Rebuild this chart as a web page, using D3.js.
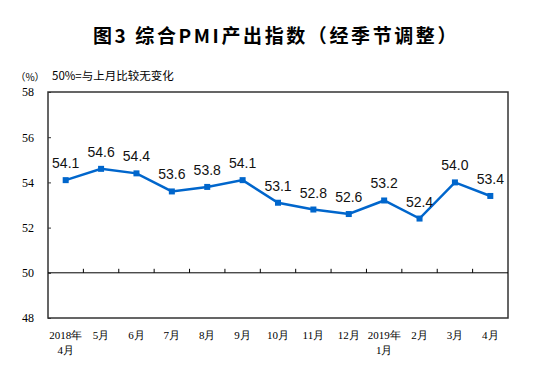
<!DOCTYPE html>
<html>
<head>
<meta charset="utf-8">
<script src="https://cdn.jsdelivr.net/npm/d3@7"></script>
<style>
  body { margin: 0; background: #fff; }
  svg { display: block; }
</style>
</head>
<body>
<svg width="553" height="389"></svg>
<script>
const months = ["2018年\n4月", "5月", "6月", "7月", "8月", "9月", "10月", "11月", "12月", "2019年\n1月", "2月", "3月", "4月"];
const pmiValues = [54.1, 54.6, 54.4, 53.6, 53.8, 54.1, 53.1, 52.8, 52.6, 53.2, 52.4, 54.0, 53.4];
const yTicks = [48, 50, 52, 54, 56, 58];

const svg = d3.select("svg");
const margin = { top: 92, right: 45, bottom: 71, left: 48 };
const width = 553 - margin.left - margin.right;
const height = 389 - margin.top - margin.bottom;
const blue = "#0066cc";
const serif = "'Liberation Serif', 'Times New Roman', serif";
const cjk = "'Noto Sans CJK SC', sans-serif";

// title
svg.append("text")
  .attr("x", 276).attr("y", 43)
  .attr("text-anchor", "middle")
  .style("font-family", cjk)
  .style("font-weight", "bold")
  .style("font-size", "19px")
  .style("letter-spacing", "2.6px")
  .text("图3 综合PMI产出指数（经季节调整）");

svg.append("text")
  .attr("x", 30).attr("y", 81)
  .attr("text-anchor", "middle")
  .style("font-family", cjk)
  .style("font-size", "10px")
  .text("（%）");

svg.append("text")
  .attr("x", 52).attr("y", 80)
  .style("font-family", cjk)
  .style("font-size", "11.5px")
  .text("50%=与上月比较无变化");

const g = svg.append("g").attr("transform", `translate(${margin.left},${margin.top})`);

const x = d3.scaleBand().domain(d3.range(months.length)).range([0, width]);
const y = d3.scaleLinear().domain([48, 58]).range([height, 0]);

// frame
g.append("rect")
  .attr("width", width).attr("height", height)
  .attr("fill", "none").attr("stroke", "#333").attr("stroke-width", 1.5);

// y axis
const yAxis = g.append("g")
  .call(d3.axisLeft(y).tickValues(yTicks).tickSize(-3).tickPadding(14));
yAxis.select(".domain").remove();
yAxis.selectAll("line").attr("stroke", "#333");
yAxis.selectAll("text")
  .style("font-family", serif)
  .style("font-size", "12px")
  .attr("fill", "#000");

// 50 baseline with category boundary ticks
g.append("line")
  .attr("x1", 0).attr("x2", width)
  .attr("y1", y(50)).attr("y2", y(50))
  .attr("stroke", "#000").attr("stroke-width", 1);

g.selectAll(".bound")
  .data(d3.range(1, months.length))
  .enter().append("line")
  .attr("x1", d => x(d)).attr("x2", d => x(d))
  .attr("y1", y(50)).attr("y2", y(50) - 4)
  .attr("stroke", "#000");

// x labels
const xl = g.selectAll(".xl")
  .data(months)
  .enter().append("text")
  .attr("x", (d, i) => x(i) + x.bandwidth() / 2)
  .attr("y", height + 21)
  .attr("text-anchor", "middle")
  .style("font-family", serif)
  .style("font-size", "11px");
xl.each(function(d) {
  const lines = d.split("\n");
  d3.select(this).selectAll("tspan")
    .data(lines)
    .enter().append("tspan")
    .attr("x", d3.select(this).attr("x"))
    .attr("dy", (l, j) => j === 0 ? 0 : 15)
    .text(l => l);
});

// line
const line = d3.line()
  .x((d, i) => x(i) + x.bandwidth() / 2)
  .y(d => y(d));

g.append("path")
  .datum(pmiValues)
  .attr("d", line)
  .attr("fill", "none")
  .attr("stroke", blue)
  .attr("stroke-width", 2.5);

g.selectAll(".mk")
  .data(pmiValues)
  .enter().append("rect")
  .attr("x", (d, i) => x(i) + x.bandwidth() / 2 - 3)
  .attr("y", d => y(d) - 3)
  .attr("width", 6).attr("height", 6)
  .attr("fill", blue);

g.selectAll(".lbl")
  .data(pmiValues)
  .enter().append("text")
  .attr("x", (d, i) => x(i) + x.bandwidth() / 2)
  .attr("y", d => y(d) - 12)
  .attr("text-anchor", "middle")
  .style("font-family", "'Liberation Sans', Arial, sans-serif")
  .style("font-size", "14px")
  .attr("fill", "#111")
  .text(d => d.toFixed(1));
</script>
</body>
</html>
